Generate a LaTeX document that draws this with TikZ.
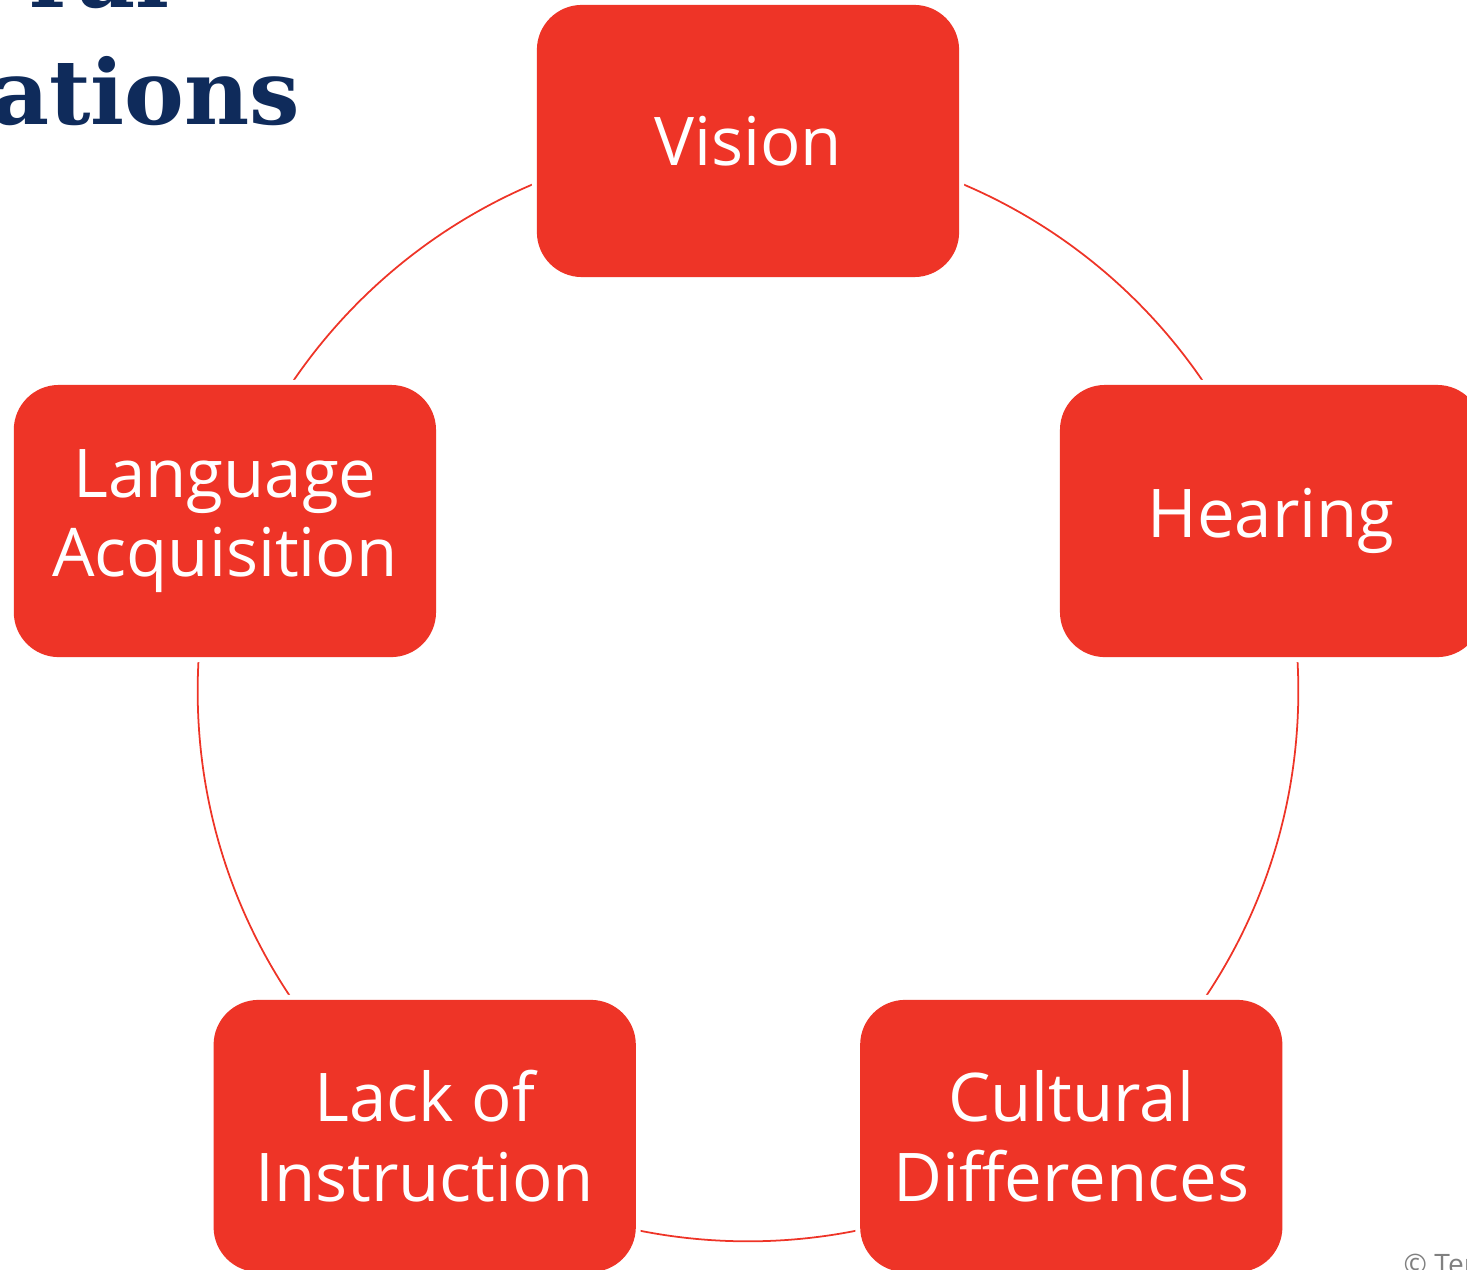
\documentclass[tikz,border=0pt]{standalone}
\usepackage{fontspec}
\setmainfont{Open Sans}
\newfontfamily\headfont{DejaVu Serif}
\usepackage{xcolor}
\definecolor{boxred}{HTML}{EE3427}
\definecolor{headblue}{HTML}{0F2B5B}

\begin{document}
\begin{tikzpicture}[
  x=0.01cm, y=0.01cm,
  ring/.style={draw=boxred, line width=0.5pt},
  item/.style={rectangle, rounded corners=0.45cm, fill=boxred, text=white,
    minimum width=4.22cm, minimum height=2.72cm, align=center,
    font=\fontsize{19.1}{22.7}\selectfont,
    preaction={draw=white, line width=0.1cm}},
  head/.style={anchor=base east, inner sep=0pt, text=headblue,
    font=\headfont\bfseries\fontsize{25.5}{30}\selectfont}
  ]
  \clip (-748,-579) rectangle (719,691);

  % heading, cut by the frame
  \node[head] (headtop) at (-578,683) {ral};
  \node[head] (headbot) at (-447,566) {ations};

  % the ring behind the boxes
  \draw[ring] (0,0) circle[radius=5.5cm];

  \node[item] (vision)   at (90:550)   {Vision};
  \node[item] (hearing)  at (18:550)   {Hearing};
  \node[item] (cultural) at (-54:550)  {Cultural\\Differences};
  \node[item] (lack)     at (-126:550) {Lack of\\Instruction};
  \node[item] (language) at (162:550)  {Language\\Acquisition};

  \node[anchor=base west, inner sep=0pt, text=gray,
    font=\fontsize{8}{10}\selectfont] (copy) at (655,-583) {© Ter};
\end{tikzpicture}
\end{document}
